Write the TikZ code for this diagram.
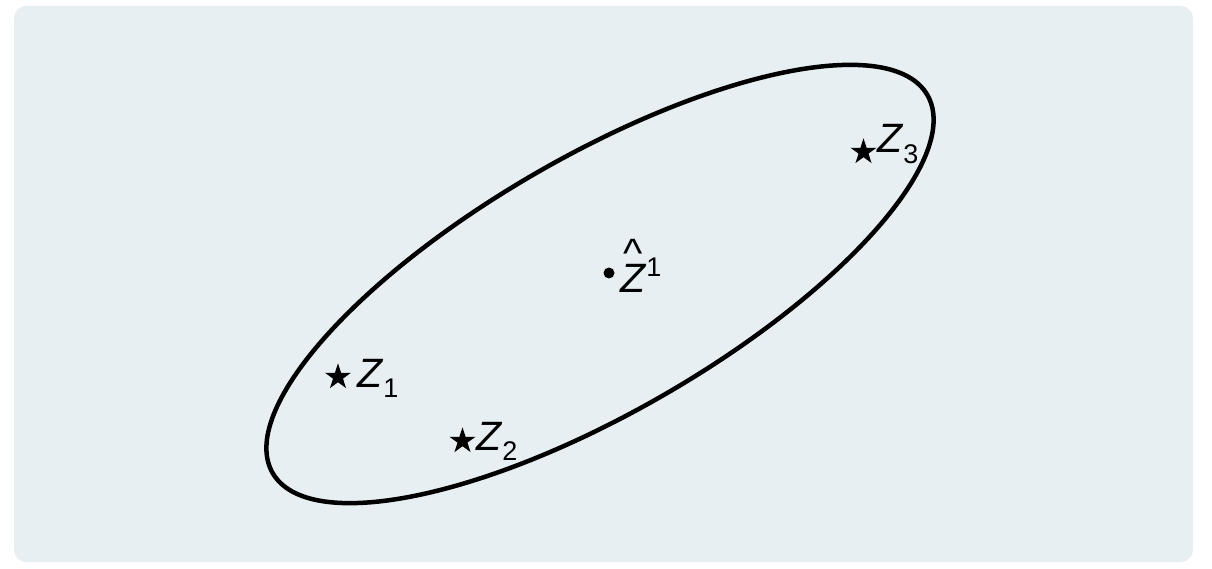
\documentclass[tikz,border=0pt]{standalone}
\usepackage{fontspec}
\setmainfont{Liberation Sans}
\usetikzlibrary{shapes.geometric}
\usepackage{xcolor}
\definecolor{panel}{RGB}{232,239,243}

\newcommand{\zhat}{\ooalign{\textit{Z}\cr\hidewidth\raisebox{0.62em}{\char`\^}\hidewidth\cr}}

\begin{document}
\begin{tikzpicture}[
    x=1pt, y=1pt,
    font=\fontsize{41}{44}\selectfont,
    pt/.style={star, star points=5, star point ratio=2.618, minimum size=27.4pt, inner sep=0pt, fill=black, draw=none},
    lab/.style={anchor=base west, inner sep=0pt}
  ]
    \useasboundingbox (0,0) rectangle (1212,568);
    \fill[panel, rounded corners=12pt] (14,6) rectangle (1193,562);
    \coordinate (c) at (600,284);
    \draw[line width=4.5pt, rotate around={30:(c)}] (c) ellipse [x radius=378pt, y radius=128pt];
    \node[pt] (s1) at (338,191) {};
    \node[pt] (s2) at (462.5,127) {};
    \node[pt] (s3) at (863.5,416) {};
    \node[lab] (z1) at (357,181) {\textit{Z}\raisebox{-10pt}{\fontsize{27}{28}\selectfont 1}};
    \node[lab] (z2) at (476,118) {\textit{Z}\raisebox{-10pt}{\fontsize{27}{28}\selectfont 2}};
    \node[lab] (z3) at (877,415) {\textit{Z}\raisebox{-11pt}{\fontsize{27}{28}\selectfont 3}};
    \fill (609,295) circle (5.5pt);
    \node[lab] (zm) at (620,275) {\zhat\raisebox{16pt}{\fontsize{27}{28}\selectfont 1}};
  \end{tikzpicture}
\end{document}
